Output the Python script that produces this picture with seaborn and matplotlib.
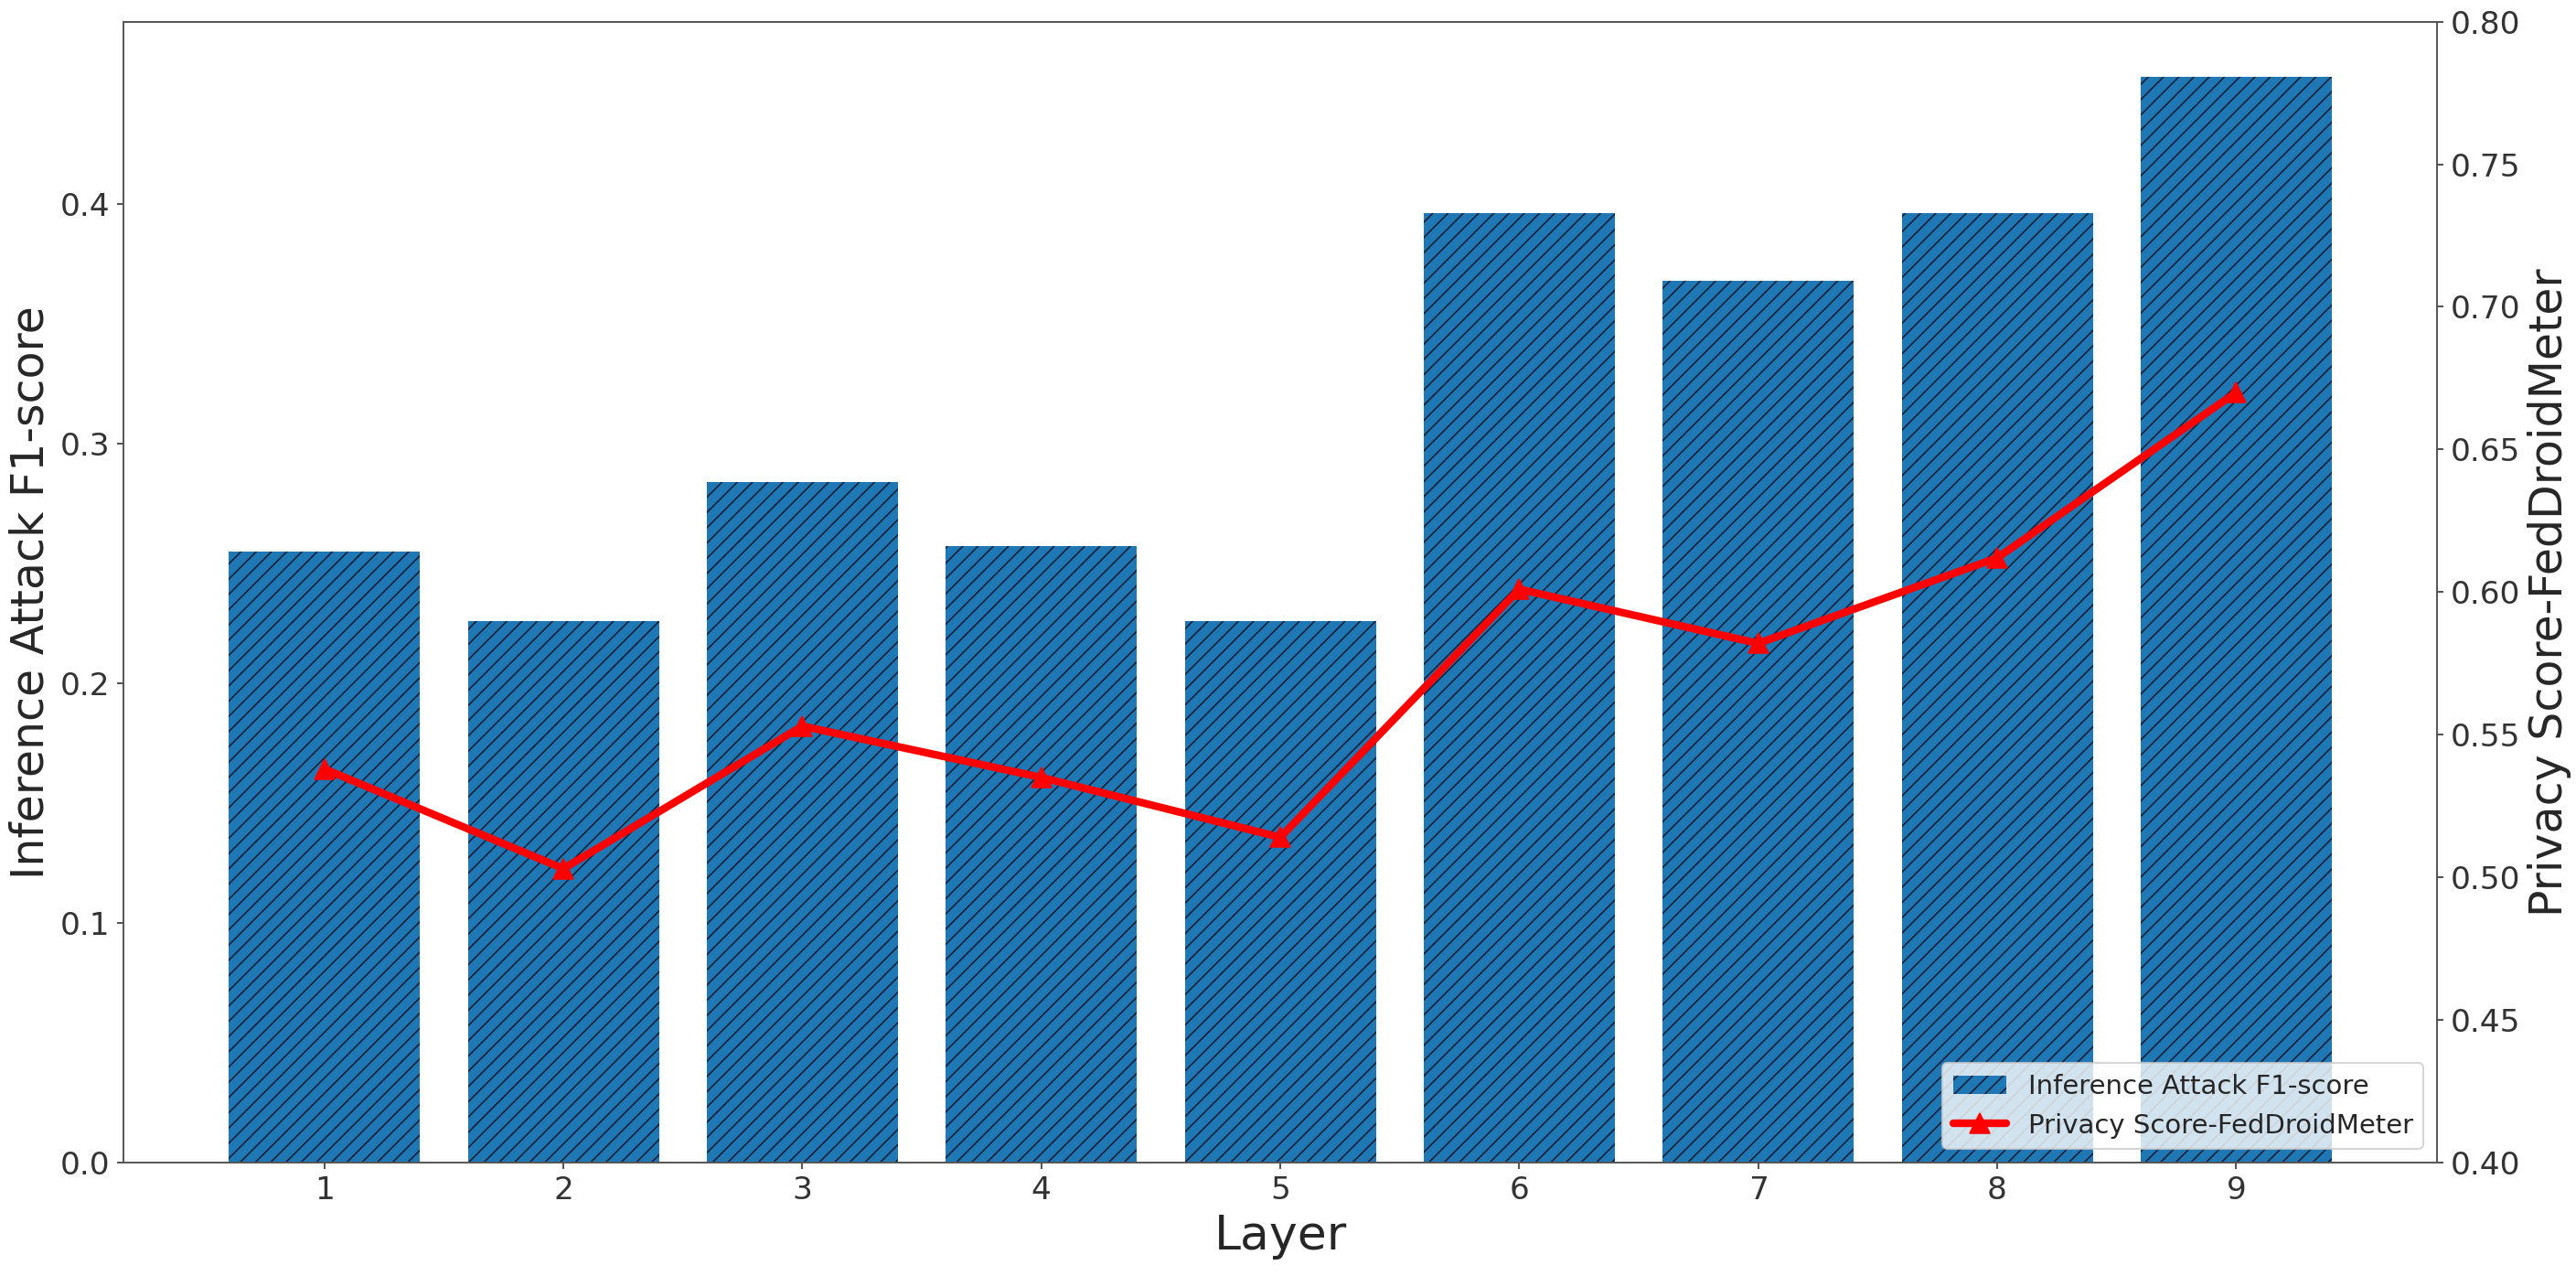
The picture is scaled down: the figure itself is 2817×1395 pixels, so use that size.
import numpy as np
import pandas as pd
import matplotlib
matplotlib.use('Agg')
import matplotlib.pyplot as plt
import seaborn as sns

# values
layers = [1, 2, 3, 4, 5, 6, 7, 8, 9]
f1_score = [0.255, 0.226, 0.284, 0.257, 0.226, 0.396, 0.368, 0.396, 0.453]
privacy_score = [0.538, 0.503, 0.553, 0.535, 0.514, 0.601, 0.582, 0.612, 0.670]

df = pd.DataFrame({'Layer': layers, 'F1': f1_score, 'Privacy': privacy_score})

sns.set_style('ticks')
plt.rcParams['font.family'] = ['DejaVu Sans']
plt.rcParams['hatch.linewidth'] = 0.8

fig, ax = plt.subplots(figsize=(2817 / 150, 1395 / 150), dpi=150)
fig.subplots_adjust(left=0.048, right=0.946, top=0.983, bottom=0.089)

sns.barplot(data=df, x='Layer', y='F1', native_scale=True, color='#1f77b4',
            saturation=1, width=0.8, ax=ax, label='Inference Attack F1-score')
for p in ax.patches:
    p.set_hatch('///')
    p.set_edgecolor('#14213a')
    p.set_linewidth(0)
if ax.get_legend() is not None:
    ax.get_legend().remove()

ax.set_xlim(0.16, 9.84)
ax.set_ylim(0, 0.476)
ax.set_xticks(layers)
ax.set_yticks([0.0, 0.1, 0.2, 0.3, 0.4])
ax.set_xlabel('Layer', fontsize=25)
ax.set_ylabel('Inference Attack F1-score', fontsize=23.5)
ax.tick_params(labelsize=16.5, colors='#333333', labelcolor='#333333')

ax2 = ax.twinx()
sns.lineplot(data=df, x='Layer', y='Privacy', color='red', linewidth=4,
             marker='^', markersize=11, markeredgecolor='red', ax=ax2,
             label='Privacy Score-FedDroidMeter', legend=False)
ax2.set_ylim(0.40, 0.80)
ax2.set_yticks(np.arange(0.40, 0.801, 0.05))
ax2.set_ylabel('Privacy Score-FedDroidMeter', fontsize=23.5)
ax2.tick_params(labelsize=16.5, colors='#333333', labelcolor='#333333')

h1, l1 = ax.get_legend_handles_labels()
h2, l2 = ax2.get_legend_handles_labels()
ax2.legend(h1 + h2, l1 + l2, loc='lower right', fontsize=14)

for a in (ax, ax2):
    for s in a.spines.values():
        s.set_visible(True)
        s.set_color('#555555')

fig.savefig('out.png', dpi=150)
